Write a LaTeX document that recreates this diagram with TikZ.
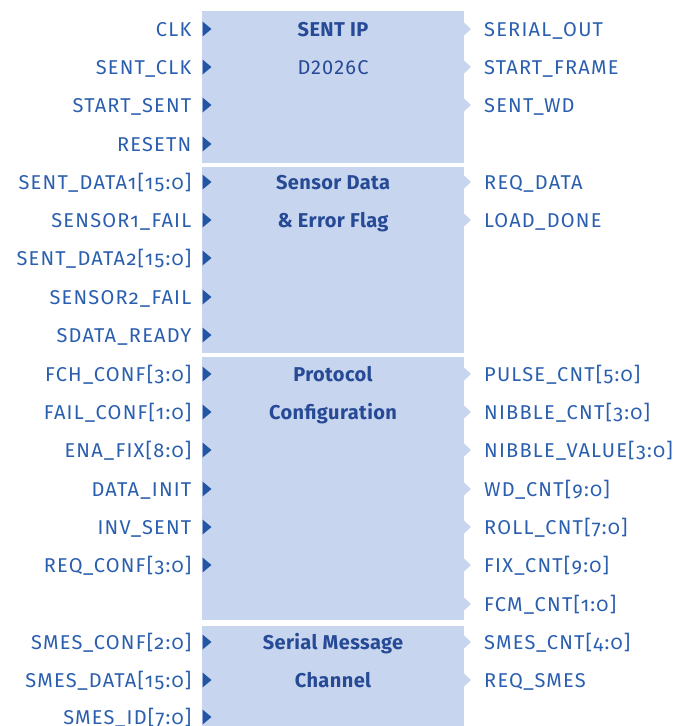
\documentclass[tikz,border=0pt]{standalone}
\usepackage{fontspec}
\setmainfont{Fira Sans}[Numbers=OldStyle, LetterSpace=6]
\newfontfamily\liningfont{Fira Sans}[LetterSpace=6]
\newfontfamily\headfont{Fira Sans}[LetterSpace=2]
\definecolor{blk}{RGB}{200,213,238}
\definecolor{txt}{RGB}{42,94,174}
\definecolor{hdr}{RGB}{38,74,150}
\definecolor{pin}{RGB}{35,85,165}
\begin{document}
\begin{tikzpicture}[x=1pt,y=-1pt,
  lbl/.style={font=\fontsize{20}{24}\selectfont, text=txt, inner sep=0pt, text height=14pt, text depth=0pt},
  hd/.style={font=\fontsize{20}{24}\selectfont\headfont\bfseries, text=hdr, inner sep=0pt, text height=14pt, text depth=0pt},
  sub/.style={font=\fontsize{20}{24}\selectfont\liningfont, text=hdr, inner sep=0pt, text height=14pt, text depth=0pt},
  inpin/.style={fill=pin},
  outpin/.style={fill=blk}]
\useasboundingbox (0,0) rectangle (679,726);
% blocks
\fill[blk] (202,11) rectangle (464,162.5);
\fill[blk] (202,166.7) rectangle (464,352.7);
\fill[blk] (202,356.7) rectangle (464,620);
\fill[blk] (202,625.7) rectangle (464,726);
% headings
\node[hd] (h1) at (333,29) {SENT IP};
\node[sub] (h1b) at (333,67) {D2026C};
\node[hd] (h2) at (333,182) {Sensor Data};
\node[hd] (h2b) at (333,220) {\& Error Flag};
\node[hd] (h3) at (333,374) {Protocol};
\node[hd] (h3b) at (333,412) {Configuration};
\node[hd] (h4) at (333,642) {Serial Message};
\node[hd] (h4b) at (333,680) {Channel};
% inputs
\foreach \t/\y [count=\i] in {CLK/29, SENT\_CLK/67, START\_SENT/105, RESETN/144,
  SENT\_DATA1[15:0]/182, SENSOR1\_FAIL/220, SENT\_DATA2[15:0]/258, SENSOR2\_FAIL/297, SDATA\_READY/335,
  FCH\_CONF[3:0]/374, FAIL\_CONF[1:0]/412, ENA\_FIX[8:0]/450, DATA\_INIT/489, INV\_SENT/527, REQ\_CONF[3:0]/565,
  SMES\_CONF[2:0]/642, SMES\_DATA[15:0]/680, SMES\_ID[7:0]/717}{
  \node[lbl, anchor=east] (in\i) at (191.5,\y) {\t};
  \fill[inpin] (202.5,{\y-7.5}) -- (211.5,\y) -- (202.5,{\y+7.5}) -- cycle;
}
% outputs
\foreach \t/\y [count=\i] in {SERIAL\_OUT/29, START\_FRAME/67, SENT\_WD/105,
  REQ\_DATA/182, LOAD\_DONE/220,
  PULSE\_CNT[5:0]/374, NIBBLE\_CNT[3:0]/412, NIBBLE\_VALUE[3:0]/450, WD\_CNT[9:0]/489, ROLL\_CNT[7:0]/527, FIX\_CNT[9:0]/565, FCM\_CNT[1:0]/604,
  SMES\_CNT[4:0]/642, REQ\_SMES/680}{
  \node[lbl, anchor=west] (out\i) at (484,\y) {\t};
  \fill[outpin] (463.5,{\y-7}) -- (471,\y) -- (463.5,{\y+7}) -- cycle;
}
\end{tikzpicture}
\end{document}
